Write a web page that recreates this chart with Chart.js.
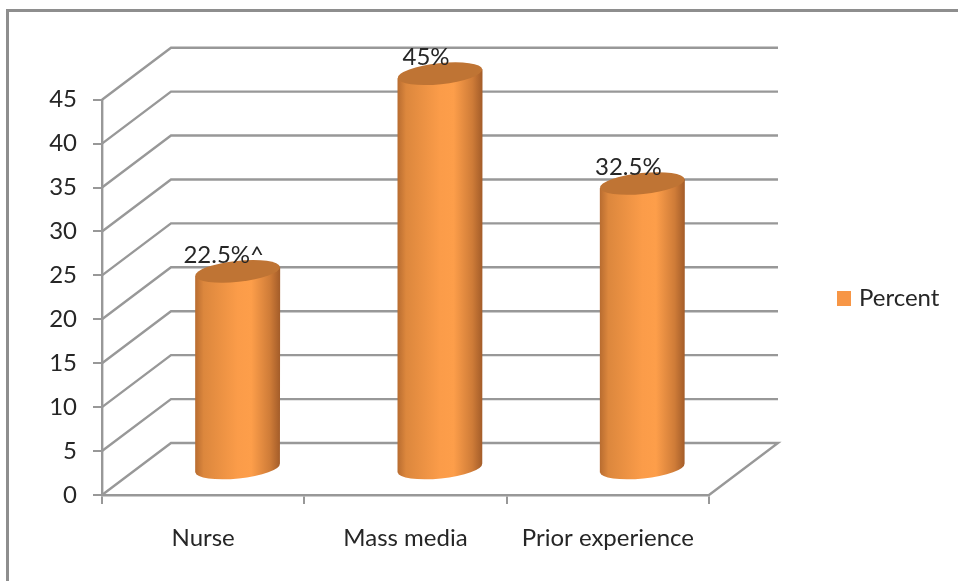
<!DOCTYPE html>
<html>
<head>
<meta charset="utf-8">
<script src="https://cdn.jsdelivr.net/npm/chart.js@4"></script>
<style>
    html, body { margin: 0; padding: 0; background: #fff; overflow: hidden; }
    #frame { position: absolute; left: 6px; top: 9px; width: 952px; height: 572px;
             border-left: 3px solid #8e8e8e; border-top: 3px solid #8e8e8e; box-sizing: border-box; }
    #grafik { position: absolute; left: 0; top: 0; }
</style>
</head>
<body>
<div id="frame"></div>
<canvas id="grafik" width="958" height="581"></canvas>
<script>
const categories = ['Nurse', 'Mass media', 'Prior experience'];
const percent = [22.5, 45, 32.5];
const value_labels = ['22.5%^', '45%', '32.5%'];
const series_name = 'Percent';
const y_ticks = [0, 5, 10, 15, 20, 25, 30, 35, 40, 45];

const font_name = 'Lato, "Open Sans", sans-serif';
const line_color = '#989898';
const text_color = '#262626';

// depth of the fake 3d box, the bars stand half way in
const depth_x = 69;
const depth_y = 52;
const tilt = -0.105;
const cap_ry = 10.5;

// back wall, side wall and floor, drawn from the y scale
const wall = {
    id: 'wall',
    beforeDatasetsDraw(chart) {
        const ctx = chart.ctx;
        const area = chart.chartArea;
        const y = chart.scales.y;
        ctx.save();
        ctx.strokeStyle = line_color;
        ctx.lineWidth = 2.4;
        y_ticks.forEach(function (v) {
            const py = y.getPixelForValue(v);
            ctx.beginPath();
            ctx.moveTo(area.left, py);
            ctx.lineTo(area.left + depth_x, py - depth_y);
            ctx.lineTo(area.right + depth_x, py - depth_y);
            if (v === 0) {
                ctx.lineTo(area.right, py);
            }
            ctx.stroke();
        });
        ctx.restore();
    }
};

// cylinders instead of the flat bars
const cylinder = {
    id: 'cylinder',
    beforeDatasetDraw(chart, args) {
        const ctx = chart.ctx;
        args.meta.data.forEach(function (bar) {
            const cx = bar.x + depth_x / 2;
            const rx = bar.width / 2;
            const top = bar.y - depth_y / 2;
            const bottom = bar.base - depth_y / 2;
            const lift = Math.sin(-tilt) * rx;

            const g = ctx.createLinearGradient(cx - rx, 0, cx + rx, 0);
            g.addColorStop(0, '#b86c30');
            g.addColorStop(0.1, '#dc873d');
            g.addColorStop(0.5, '#fb9c49');
            g.addColorStop(0.66, '#fd9e4a');
            g.addColorStop(0.88, '#cf7c38');
            g.addColorStop(1, '#a35c29');

            ctx.save();
            ctx.fillStyle = g;
            ctx.beginPath();
            ctx.moveTo(cx - rx, top + lift);
            ctx.lineTo(cx - rx, bottom + lift);
            ctx.ellipse(cx, bottom, rx, cap_ry, tilt, Math.PI, 0, true);
            ctx.lineTo(cx + rx, top - lift);
            ctx.closePath();
            ctx.fill();

            ctx.fillStyle = '#bf7434';
            ctx.beginPath();
            ctx.ellipse(cx, top, rx, cap_ry, tilt, 0, Math.PI * 2);
            ctx.fill();
            ctx.restore();
        });
        return false;
    }
};

// value labels and the legend on the right
const teks = {
    id: 'teks',
    afterDatasetsDraw(chart) {
        const ctx = chart.ctx;
        const bars = chart.getDatasetMeta(0).data;
        ctx.save();
        ctx.fillStyle = text_color;
        ctx.font = '24px ' + font_name;
        ctx.textAlign = 'center';
        ctx.textBaseline = 'middle';
        bars.forEach(function (bar, i) {
            ctx.fillText(value_labels[i], bar.x + depth_x / 2 - 14, bar.y - depth_y / 2 - 16);
        });

        ctx.fillStyle = '#f79646';
        ctx.fillRect(837, 291, 14, 15);
        ctx.fillStyle = text_color;
        ctx.textAlign = 'left';
        ctx.fillText(series_name, 859, 298);
        ctx.restore();
    }
};

const ctx_grafik = document.getElementById('grafik');
new Chart(ctx_grafik, {
    type: 'bar',
    data: {
        labels: categories,
        datasets: [{
            label: series_name,
            data: percent,
            backgroundColor: '#f79646',
            categoryPercentage: 1,
            barPercentage: 0.42
        }]
    },
    options: {
        responsive: false,
        animation: false,
        layout: { padding: { left: 0, top: 99.7, right: 249, bottom: 0 } },
        plugins: { legend: { display: false }, tooltip: { enabled: false } },
        scales: {
            x: {
                afterFit(scale) { scale.height = 86; },
                border: { color: line_color, width: 2.4 },
                grid: { offset: true, drawOnChartArea: false, color: line_color, lineWidth: 2, tickLength: 9 },
                ticks: { color: text_color, padding: 20, maxRotation: 0, font: { family: font_name, size: 24 } }
            },
            y: {
                min: 0,
                max: 45,
                afterFit(scale) { scale.width = 102; },
                afterBuildTicks(scale) { scale.ticks = y_ticks.map(function (v) { return { value: v }; }); },
                border: { color: line_color, width: 2.4 },
                grid: { drawOnChartArea: false, color: line_color, lineWidth: 2, tickLength: 9 },
                ticks: { color: text_color, padding: 16, font: { family: font_name, size: 24 } }
            }
        }
    },
    plugins: [wall, cylinder, teks]
});
</script>
</body>
</html>
